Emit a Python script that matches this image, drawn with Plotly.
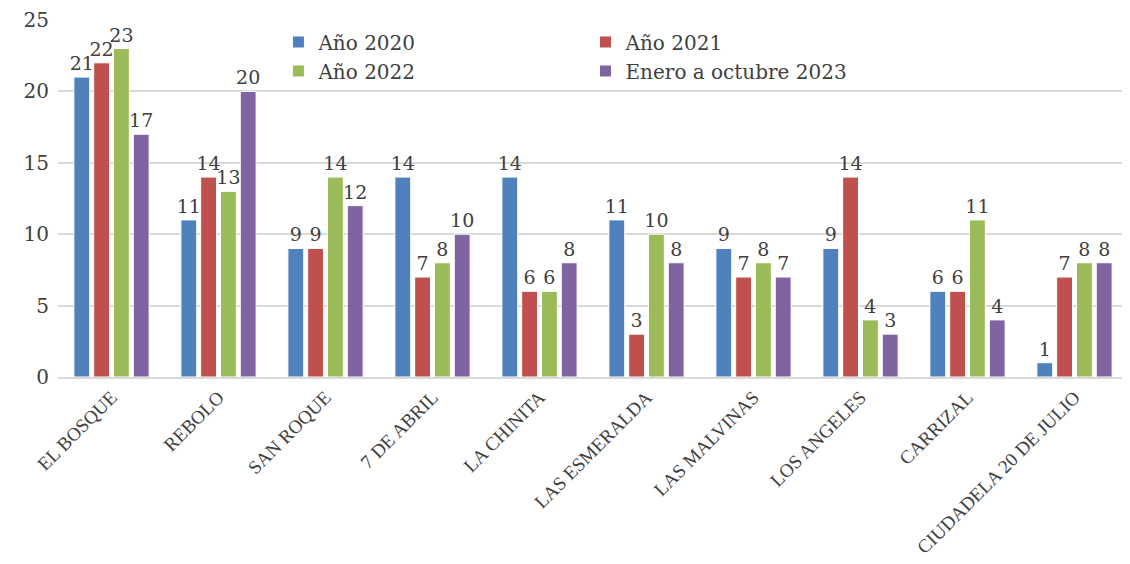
import plotly.graph_objects as go

categories = ["EL BOSQUE", "REBOLO", "SAN ROQUE", "7 DE ABRIL", "LA CHINITA",
              "LAS ESMERALDA", "LAS MALVINAS", "LOS ANGELES", "CARRIZAL",
              "CIUDADELA 20 DE JULIO"]
series_names = ["Año 2020", "Año 2021", "Año 2022", "Enero a octubre 2023"]
v2020 = [21, 11, 9, 14, 14, 11, 9, 9, 6, 1]
v2021 = [22, 14, 9, 7, 6, 3, 7, 14, 6, 7]
v2022 = [23, 13, 14, 8, 6, 10, 8, 4, 11, 8]
v2023 = [17, 20, 12, 10, 8, 8, 7, 3, 4, 8]
y_ticks = [0, 5, 10, 15, 20, 25]

colors = ["#4F81BD", "#C0504D", "#9BBB59", "#8064A2"]
legends = ["legend", "legend2", "legend", "legend2"]
font_serif = "DejaVu Serif"
txtcol = "#404040"

fig = go.Figure()
for name, vals, col, lg in zip(series_names, [v2020, v2021, v2022, v2023], colors, legends):
    fig.add_trace(go.Bar(
        x=categories, y=vals, name=name,
        marker=dict(color=col, line=dict(color="white", width=1)),
        text=vals, textposition="outside", cliponaxis=False,
        constraintext="none",
        textfont=dict(family=font_serif, size=19, color=txtcol),
        legend=lg,
    ))

legend_font = dict(family=font_serif, size=20, color=txtcol)
fig.update_layout(
    width=1122, height=556,
    margin=dict(l=50, r=2, t=12, b=187, autoexpand=False),
    plot_bgcolor="white", paper_bgcolor="white",
    barmode="group", bargap=0.26, bargroupgap=0.2,
    font=dict(family=font_serif, color=txtcol),
    legend=dict(x=0.206, y=0.993, xanchor="left", yanchor="top",
                font=legend_font, itemwidth=30, tracegroupgap=0,
                bgcolor="rgba(0,0,0,0)"),
    legend2=dict(x=0.493, y=0.993, xanchor="left", yanchor="top",
                 font=legend_font, itemwidth=30, tracegroupgap=0,
                 bgcolor="rgba(0,0,0,0)"),
)
fig.update_yaxes(range=[0, 25], tickvals=y_ticks, showgrid=True, gridcolor="#D9D9D9",
                 gridwidth=1.5, zeroline=False, showline=False, automargin=False,
                 tickfont=dict(family=font_serif, size=20, color=txtcol), ticks="",
                 ticklabelstandoff=8)
fig.update_xaxes(showline=True, linecolor="#D9D9D9", linewidth=1.5, ticks="",
                 automargin=False, tickangle=-45,
                 tickfont=dict(family="Liberation Serif", size=19, color=txtcol))

fig.write_html("out.html")
